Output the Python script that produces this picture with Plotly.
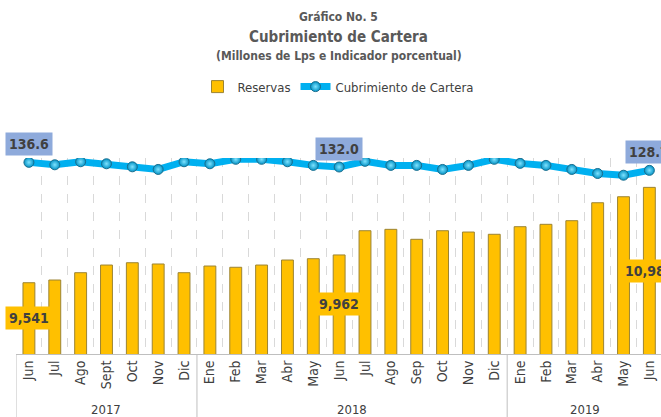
import plotly.graph_objects as go

years = ["2017", "2018", "2019"]
months_per_year = [7, 12, 6]
months = ["Jun", "Jul", "Ago", "Sept", "Oct", "Nov", "Dic",
          "Ene", "Feb", "Mar", "Abr", "May", "Jun", "Jul", "Ago", "Sep", "Oct", "Nov", "Dic",
          "Ene", "Feb", "Mar", "Abr", "May", "Jun"]
reservas = [9541, 9582, 9693, 9809, 9844, 9825, 9693,
            9794, 9775, 9809, 9885, 9905, 9962, 10329, 10350, 10199, 10329, 10309, 10275,
            10390, 10426, 10481, 10753, 10844, 10986]
cubrimiento = [136.6, 134.2, 137.2, 135.2, 132.2, 129.6, 137.2,
               135.2, 139.6, 139.6, 137.2, 133.6, 132.0, 137.6, 133.6, 133.6, 129.6, 133.6, 139.6,
               135.6, 133.6, 129.6, 125.6, 123.9, 128.7]
labeled_idx = [0, 12, 24]

FONT = "DejaVu Sans Condensed, Liberation Sans, sans-serif"
Y_RANGE = [8461, 11431]
Y2_RANGE = [-52.6, 140.9]

xs = list(range(len(months)))

fig = go.Figure()
fig.add_trace(go.Bar(
    x=xs, y=reservas, name="Reservas",
    marker=dict(color="#ffc000", line=dict(color="#9c8433", width=1)),
    width=0.46,
))
fig.add_trace(go.Scatter(
    x=xs, y=cubrimiento, name="Cubrimiento de Cartera", yaxis="y2",
    mode="lines+markers",
    line=dict(color="#00b0f0", width=7),
    marker=dict(size=10, color="#0393c6",
                gradient=dict(type="radial", color="#7fe3ff"),
                line=dict(color="#1a6e8e", width=1)),
))

annotations = []
shapes = []
for i in labeled_idx:
    annotations.append(dict(
        x=xs[i], y=cubrimiento[i], xref="x", yref="y2", yshift=18,
        text="<b>%.1f</b>" % cubrimiento[i], showarrow=False,
        bgcolor="#8eaadb", borderpad=3,
        font=dict(family=FONT, size=14, color="#404040"),
    ))
    annotations.append(dict(
        x=xs[i], y=(Y_RANGE[0] + reservas[i]) / 2, xref="x", yref="y",
        text="<b>{:,}</b>".format(reservas[i]), showarrow=False,
        bgcolor="#ffc000", borderpad=3,
        font=dict(family=FONT, size=14, color="#404040"),
    ))

# year group labels and dividers
start = 0
bounds = [-0.5]
for yr, n in zip(years, months_per_year):
    annotations.append(dict(
        x=start + (n - 1) / 2, y=-0.281, xref="x", yref="paper", text=yr,
        showarrow=False, yanchor="middle",
        font=dict(family=FONT, size=13, color="#404040"),
    ))
    start += n
    bounds.append(start - 0.5)
for b in bounds:
    shapes.append(dict(type="line", xref="x", yref="paper", x0=b, x1=b, y0=0, y1=-0.33,
                       line=dict(color="#bfbfbf", width=1)))

titles = [("<b>Gráfico No. 5</b>", 1.721, 12),
          ("<b>Cubrimiento de Cartera</b>", 1.619, 15),
          ("<b>(Millones de Lps e Indicador porcentual)</b>", 1.518, 12)]
for t, yy, s in titles:
    annotations.append(dict(x=0.5, y=yy, xref="paper", yref="paper", text=t,
                            showarrow=False, yanchor="middle",
                            font=dict(family=FONT, size=s, color="#595959")))

fig.update_layout(
    width=661, height=417,
    margin=dict(l=16, r=0, t=158, b=63, autoexpand=False),
    paper_bgcolor="white", plot_bgcolor="white",
    font=dict(family=FONT, size=13, color="#404040"),
    showlegend=True,
    legend=dict(orientation="h", x=0.5, xanchor="center", y=1.364, yanchor="middle",
                font=dict(family=FONT, size=13, color="#404040"), itemwidth=30),
    xaxis=dict(
        range=[-0.5, 24.45], tickvals=xs, ticktext=months,
        showgrid=False, zeroline=False,
        minor=dict(tick0=-0.5, dtick=1, showgrid=True, gridcolor="#d9d9d9",
                   griddash="dash", gridwidth=1, ticks=""),
        showline=True, linecolor="#bfbfbf", linewidth=1,
        tickangle=-90, ticks="", automargin=False,
        tickfont=dict(family=FONT, size=14, color="#404040"),
    ),
    yaxis=dict(range=Y_RANGE, visible=False, showgrid=False, zeroline=False),
    yaxis2=dict(range=Y2_RANGE, overlaying="y", side="right", visible=False,
                showgrid=False, zeroline=False),
    annotations=annotations,
    shapes=shapes,
)

fig.write_html("out.html", config={"displayModeBar": False},
               post_script="document.body.style.margin='0';document.body.style.overflow='hidden';")
